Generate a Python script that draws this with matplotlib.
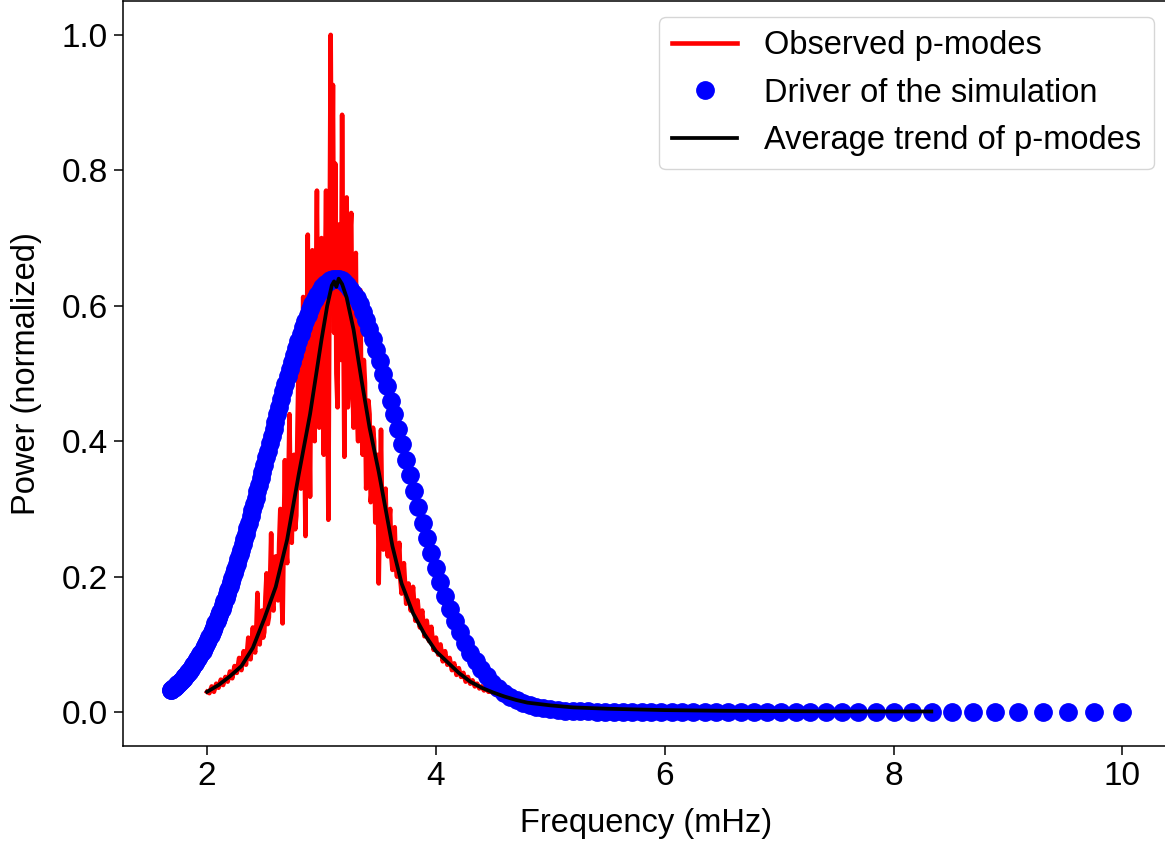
import numpy as np
import matplotlib
matplotlib.use('Agg')
import matplotlib.pyplot as plt

plt.rcParams['font.family'] = ['Liberation Sans', 'DejaVu Sans']

# observed p-modes (red, noisy)
red_freq = [2.00, 2.02, 2.04, 2.06, 2.08, 2.10, 2.12, 2.14, 2.16, 2.18,
            2.20, 2.22, 2.24, 2.26, 2.28, 2.30, 2.32, 2.34, 2.36, 2.38,
            2.40, 2.41, 2.42, 2.43, 2.44, 2.45, 2.46, 2.47, 2.48, 2.49,
            2.50, 2.51, 2.52, 2.53, 2.54, 2.55, 2.56, 2.57, 2.58, 2.59,
            2.60, 2.61, 2.62, 2.63, 2.64, 2.65, 2.66, 2.67, 2.68, 2.69,
            2.70, 2.71, 2.72, 2.73, 2.74, 2.75, 2.76, 2.77, 2.78, 2.79,
            2.80, 2.81, 2.82, 2.83, 2.84, 2.85, 2.86, 2.87, 2.88, 2.89,
            2.90, 2.91, 2.92, 2.93, 2.94, 2.95, 2.96, 2.97, 2.98, 2.99,
            3.00, 3.01, 3.02, 3.03, 3.04, 3.05, 3.06, 3.07, 3.08, 3.09,
            3.10, 3.11, 3.12, 3.13, 3.14, 3.15, 3.16, 3.17, 3.18, 3.19,
            3.20, 3.21, 3.22, 3.23, 3.24, 3.25, 3.26, 3.27, 3.28, 3.29,
            3.30, 3.31, 3.32, 3.33, 3.34, 3.35, 3.36, 3.37, 3.38, 3.39,
            3.40, 3.41, 3.42, 3.43, 3.44, 3.45, 3.46, 3.47, 3.48, 3.49,
            3.50, 3.51, 3.52, 3.53, 3.54, 3.55, 3.56, 3.57, 3.58, 3.59,
            3.60, 3.61, 3.62, 3.63, 3.64, 3.65, 3.66, 3.67, 3.68, 3.69,
            3.70, 3.72, 3.74, 3.76, 3.78, 3.80, 3.82, 3.84, 3.86, 3.88,
            3.90, 3.92, 3.94, 3.96, 3.98, 4.00, 4.02, 4.04, 4.06, 4.08,
            4.10, 4.12, 4.14, 4.16, 4.18, 4.20, 4.22, 4.24, 4.26, 4.28,
            4.30, 4.32, 4.34, 4.36, 4.38, 4.40, 4.42, 4.44, 4.46, 4.48,
            4.50, 4.52, 4.54, 4.56, 4.58, 4.60]
red_power = [0.030, 0.028, 0.038, 0.030, 0.042, 0.036, 0.048, 0.040, 0.052, 0.045,
             0.060, 0.050, 0.068, 0.058, 0.080, 0.062, 0.090, 0.070, 0.110, 0.078,
             0.125, 0.095, 0.088, 0.120, 0.176, 0.105, 0.100, 0.140, 0.150, 0.110,
             0.118, 0.170, 0.205, 0.130, 0.140, 0.190, 0.264, 0.160, 0.150, 0.200,
             0.230, 0.170, 0.165, 0.250, 0.300, 0.180, 0.131, 0.260, 0.372, 0.240,
             0.220, 0.330, 0.440, 0.300, 0.250, 0.340, 0.380, 0.270, 0.290, 0.420,
             0.520, 0.360, 0.330, 0.480, 0.613, 0.400, 0.260, 0.520, 0.705, 0.450,
             0.318, 0.560, 0.682, 0.480, 0.400, 0.600, 0.770, 0.520, 0.420, 0.650,
             0.700, 0.480, 0.380, 0.620, 0.770, 0.500, 0.284, 0.650, 1.000, 0.700,
             0.926, 0.560, 0.810, 0.500, 0.450, 0.720, 0.700, 0.520, 0.882, 0.600,
             0.377, 0.700, 0.760, 0.450, 0.480, 0.700, 0.737, 0.500, 0.420, 0.640,
             0.678, 0.450, 0.400, 0.600, 0.623, 0.420, 0.380, 0.520, 0.486, 0.330,
             0.360, 0.460, 0.440, 0.310, 0.330, 0.420, 0.400, 0.280, 0.300, 0.380,
             0.190, 0.300, 0.417, 0.280, 0.240, 0.310, 0.330, 0.250, 0.230, 0.280,
             0.300, 0.230, 0.210, 0.250, 0.273, 0.215, 0.200, 0.230, 0.250, 0.195,
             0.175, 0.220, 0.160, 0.190, 0.150, 0.185, 0.135, 0.165, 0.125, 0.150,
             0.112, 0.135, 0.105, 0.126, 0.092, 0.110, 0.085, 0.100, 0.075, 0.090,
             0.070, 0.080, 0.062, 0.072, 0.055, 0.065, 0.052, 0.058, 0.045, 0.052,
             0.042, 0.047, 0.038, 0.042, 0.035, 0.038, 0.032, 0.035, 0.030, 0.031,
             0.028, 0.028, 0.025, 0.025, 0.023, 0.022]

# driver of the simulation (blue dots)
blue_freq = [10.000, 9.756, 9.524, 9.302, 9.091, 8.889, 8.696, 8.511, 8.333, 8.163,
             8.000, 7.843, 7.692, 7.547, 7.407, 7.273, 7.143, 7.018, 6.897, 6.780,
             6.667, 6.557, 6.452, 6.349, 6.250, 6.154, 6.061, 5.970, 5.882, 5.797,
             5.714, 5.634, 5.556, 5.479, 5.405, 5.333, 5.263, 5.195, 5.128, 5.063,
             5.000, 4.938, 4.878, 4.819, 4.762, 4.706, 4.651, 4.598, 4.545, 4.494,
             4.444, 4.396, 4.348, 4.301, 4.255, 4.211, 4.167, 4.124, 4.082, 4.040,
             4.000, 3.960, 3.922, 3.883, 3.846, 3.810, 3.774, 3.738, 3.704, 3.670,
             3.636, 3.604, 3.571, 3.540, 3.509, 3.478, 3.448, 3.419, 3.390, 3.361,
             3.333, 3.306, 3.279, 3.252, 3.226, 3.200, 3.175, 3.150, 3.125, 3.101,
             3.077, 3.053, 3.030, 3.008, 2.985, 2.963, 2.941, 2.920, 2.899, 2.878,
             2.857, 2.837, 2.817, 2.797, 2.778, 2.759, 2.740, 2.721, 2.703, 2.685,
             2.667, 2.649, 2.632, 2.614, 2.597, 2.581, 2.564, 2.548, 2.532, 2.516,
             2.500, 2.484, 2.469, 2.454, 2.439, 2.424, 2.410, 2.395, 2.381, 2.367,
             2.353, 2.339, 2.326, 2.312, 2.299, 2.286, 2.273, 2.260, 2.247, 2.235,
             2.222, 2.210, 2.198, 2.186, 2.174, 2.162, 2.151, 2.139, 2.128, 2.116,
             2.105, 2.094, 2.083, 2.073, 2.062, 2.051, 2.041, 2.030, 2.020, 2.010,
             2.000, 1.990, 1.980, 1.970, 1.961, 1.951, 1.942, 1.932, 1.923, 1.914,
             1.905, 1.896, 1.887, 1.878, 1.869, 1.860, 1.852, 1.843, 1.835, 1.826,
             1.818, 1.810, 1.802, 1.794, 1.786, 1.778, 1.770, 1.762, 1.754, 1.747,
             1.739, 1.732, 1.724, 1.717, 1.709, 1.702, 1.695, 1.688, 1.681]
blue_power = [0.000, 0.000, 0.000, 0.000, 0.000, 0.000, 0.000, 0.000, 0.000, 0.000,
              0.000, 0.000, 0.000, 0.000, 0.000, 0.000, 0.000, 0.000, 0.000, 0.000,
              0.000, 0.000, 0.000, 0.000, 0.000, 0.000, 0.000, 0.000, 0.000, 0.000,
              0.000, 0.000, 0.000, 0.000, 0.000, 0.001, 0.001, 0.001, 0.002, 0.003,
              0.004, 0.006, 0.008, 0.010, 0.014, 0.018, 0.023, 0.028, 0.035, 0.043,
              0.053, 0.063, 0.075, 0.088, 0.102, 0.118, 0.134, 0.153, 0.172, 0.192,
              0.213, 0.235, 0.257, 0.280, 0.303, 0.326, 0.350, 0.373, 0.396, 0.418,
              0.440, 0.460, 0.481, 0.500, 0.518, 0.535, 0.551, 0.565, 0.579, 0.591,
              0.602, 0.611, 0.619, 0.625, 0.631, 0.635, 0.638, 0.639, 0.640, 0.639,
              0.638, 0.635, 0.632, 0.627, 0.622, 0.616, 0.610, 0.602, 0.595, 0.586,
              0.577, 0.568, 0.558, 0.548, 0.538, 0.528, 0.517, 0.506, 0.496, 0.485,
              0.474, 0.462, 0.451, 0.440, 0.429, 0.418, 0.407, 0.397, 0.386, 0.376,
              0.365, 0.355, 0.345, 0.335, 0.326, 0.316, 0.307, 0.298, 0.289, 0.280,
              0.272, 0.263, 0.256, 0.248, 0.240, 0.233, 0.226, 0.218, 0.212, 0.205,
              0.198, 0.192, 0.186, 0.180, 0.175, 0.169, 0.164, 0.158, 0.153, 0.148,
              0.144, 0.139, 0.135, 0.131, 0.126, 0.122, 0.118, 0.114, 0.111, 0.107,
              0.104, 0.101, 0.097, 0.094, 0.091, 0.088, 0.086, 0.083, 0.080, 0.078,
              0.075, 0.073, 0.071, 0.069, 0.066, 0.064, 0.062, 0.060, 0.059, 0.057,
              0.055, 0.053, 0.052, 0.050, 0.049, 0.047, 0.046, 0.044, 0.043, 0.042,
              0.041, 0.039, 0.038, 0.037, 0.036, 0.035, 0.034, 0.033, 0.032]

# average trend (black)
avg_freq = [2.00, 2.10, 2.20, 2.30, 2.40, 2.50, 2.60, 2.70, 2.80, 2.90,
            3.00, 3.05, 3.09, 3.11, 3.13, 3.15, 3.18, 3.22, 3.28, 3.35,
            3.42, 3.50, 3.56, 3.62, 3.70, 3.80, 3.90, 4.00, 4.10, 4.20,
            4.30, 4.40, 4.50, 4.60, 4.70, 4.80, 5.00, 5.20, 5.50, 6.00,
            6.50, 7.00, 7.50, 8.00, 8.33]
avg_power = [0.030, 0.040, 0.053, 0.068, 0.095, 0.138, 0.185, 0.255, 0.350, 0.440,
             0.550, 0.600, 0.630, 0.636, 0.628, 0.640, 0.632, 0.612, 0.565, 0.490,
             0.420, 0.355, 0.300, 0.245, 0.190, 0.146, 0.115, 0.090, 0.074, 0.058,
             0.045, 0.036, 0.029, 0.023, 0.018, 0.014, 0.010, 0.007, 0.005, 0.003,
             0.002, 0.0015, 0.001, 0.001, 0.001]

fig = plt.figure(figsize=(11.65, 8.48), dpi=100)
ax = fig.add_axes([123/1165, 102/848, 1047/1165, 745/848])

ax.plot(red_freq, red_power, color='r', lw=3.3, label='Observed p-modes')
ax.plot(blue_freq, blue_power, 'o', color='b', ms=12.5, label='Driver of the simulation')
ax.plot(avg_freq, avg_power, color='k', lw=2.7, label='Average trend of p-modes')

ax.set_xticks([2, 4, 6, 8, 10])
ax.set_yticks([0.0, 0.2, 0.4, 0.6, 0.8, 1.0])
ax.tick_params(labelsize=24, length=6.5, width=1.1, pad=4.5)
for s in ax.spines.values():
    s.set_linewidth(1.1)

ax.set_xlabel('Frequency (mHz)', fontsize=23.5, labelpad=11)
ax.set_ylabel('Power (normalized)', fontsize=23.5, labelpad=14)
ax.legend(loc='upper right', fontsize=23.5, borderaxespad=0.5, handlelength=2.0)

fig.savefig('out.png', dpi=100)
